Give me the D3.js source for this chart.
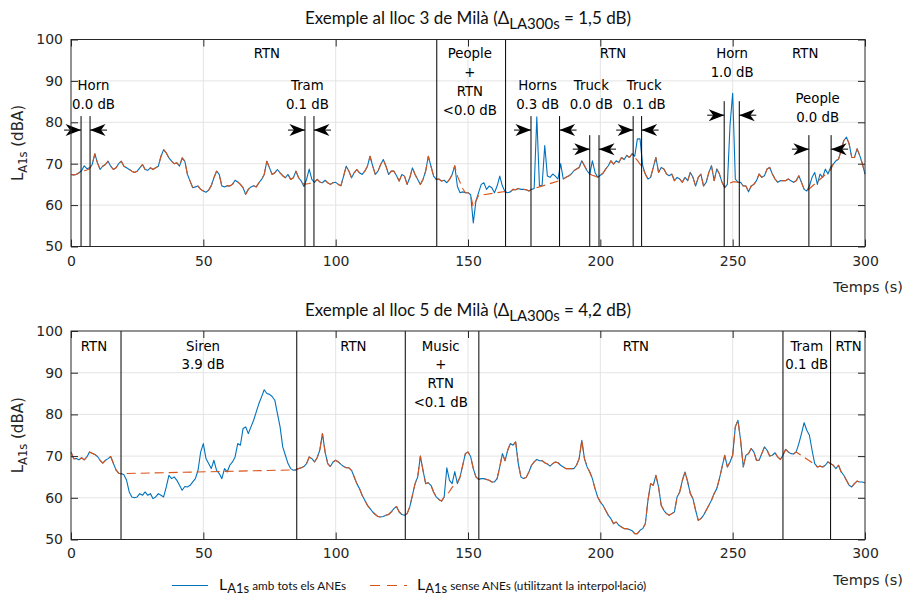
<!DOCTYPE html>
<html><head><meta charset="utf-8">
<script src="https://cdn.jsdelivr.net/npm/d3@7"></script>
<style>body{margin:0;background:#fff}</style>
</head><body><svg id="c" width="908" height="595"></svg>
<script>
// ---------- DATA ----------
const xTicks = [0,50,100,150,200,250,300];
const yTicks = [50,60,70,80,90,100];
const time = d3.range(0,301); // s, 1-s resolution

const blueTop = [
67.4,67.3,67.4,67.8,68.3,69.5,68.8,69.0,69.8,72.4,
70.2,68.6,69.4,69.8,70.6,69.4,68.6,69.0,70.0,70.6,
69.4,69.0,68.6,68.2,67.9,68.2,69.0,69.8,68.6,68.4,
69.0,68.6,69.0,69.4,71.8,73.4,72.6,71.4,70.6,70.0,
70.2,69.4,71.4,70.6,67.4,65.8,64.2,64.4,64.6,63.8,
63.4,63.1,63.6,64.7,66.6,68.2,67.4,64.6,64.4,64.7,
64.6,65.0,66.0,65.6,65.0,64.2,62.6,63.8,64.4,64.7,
64.4,65.4,66.2,67.4,70.6,69.0,67.4,67.8,68.6,67.8,
67.1,66.6,67.4,66.2,66.6,68.2,66.6,65.8,64.5,66.2,
68.7,66.2,65.5,66.2,65.6,65.4,66.0,65.4,65.0,65.4,
65.5,65.0,64.7,67.0,69.4,68.2,66.6,67.8,68.6,67.8,
67.4,68.2,69.4,71.8,69.4,67.4,68.2,69.8,71.0,69.4,
67.4,68.2,68.2,67.1,65.8,67.4,67.0,65.0,66.6,69.0,
67.4,66.2,65.0,66.2,68.2,71.8,69.4,67.0,66.2,66.3,
65.8,66.0,65.4,66.2,67.4,69.5,64.5,63.0,63.2,63.0,
63.0,62.5,55.7,61.0,63.0,65.0,65.4,63.8,64.6,64.2,
63.0,64.6,67.0,64.6,63.2,63.0,63.2,63.8,63.7,64.0,
63.8,63.8,63.7,63.4,63.8,64.0,81.3,64.6,64.8,74.4,
67.0,66.7,67.5,67.0,66.3,70.0,66.3,66.7,67.0,67.5,
68.3,68.7,69.1,70.7,69.5,68.3,67.5,70.7,67.9,66.7,
67.2,67.7,68.7,69.5,70.7,69.9,70.7,70.3,71.5,71.0,
72.0,71.5,72.4,71.8,76.0,76.0,69.5,67.5,66.3,66.7,
69.1,71.5,67.9,69.1,68.7,67.5,67.1,67.5,65.9,66.7,
66.3,65.5,66.7,65.9,67.9,66.7,64.6,66.7,67.5,64.6,
65.5,67.9,69.5,65.9,68.7,67.5,65.5,64.2,65.0,79.3,
87.0,66.3,65.5,65.5,64.6,64.6,63.2,64.6,65.0,65.9,
67.5,66.7,67.1,68.7,69.1,67.5,66.3,65.5,65.9,65.9,
65.9,66.3,65.9,65.5,65.9,67.1,65.5,63.8,63.4,64.6,
66.7,67.9,65.0,67.5,66.7,68.7,67.5,69.1,69.9,70.7,
71.1,73.2,75.6,76.4,74.8,71.5,71.5,73.6,72.0,70.0,
67.5];

const blueBot = [
71.0,69.4,69.4,69.1,69.6,69.1,69.8,71.0,70.7,70.4,
69.9,69.0,68.3,69.0,69.4,69.9,68.3,66.7,65.9,65.8,
65.5,64.2,61.4,60.2,60.0,60.2,61.0,60.6,61.4,60.6,
61.0,59.8,60.2,61.0,60.6,60.2,62.6,65.4,64.6,65.0,
64.2,63.0,61.8,62.7,62.6,63.0,63.8,64.6,66.6,71.0,
73.0,69.4,68.2,67.0,69.0,66.6,65.8,64.6,67.0,66.2,
67.8,68.6,69.8,73.0,72.6,76.6,77.0,75.4,77.0,78.6,
80.6,82.6,84.2,85.9,85.0,84.8,84.3,83.4,80.2,77.0,
72.2,70.2,68.2,67.0,66.6,66.7,67.0,67.2,67.5,68.2,
69.8,69.4,68.6,69.6,71.4,75.4,71.0,68.2,67.5,68.6,
69.0,68.6,68.0,67.5,67.2,67.2,66.6,65.0,63.4,62.2,
60.6,59.4,58.2,57.4,56.6,56.0,55.5,55.4,55.5,55.8,
56.0,56.6,57.4,57.9,56.6,56.0,55.8,56.2,57.8,60.6,
63.4,65.0,70.0,66.6,63.4,63.6,63.0,61.4,60.2,59.6,
59.2,60.2,67.2,64.2,63.4,66.3,63.4,65.0,67.8,70.6,
71.0,69.9,67.0,65.0,64.4,64.6,64.6,64.4,64.2,63.8,
63.8,64.6,67.4,70.6,68.9,71.4,73.0,72.6,73.4,68.2,
65.0,64.6,64.9,66.2,67.8,68.6,69.2,68.9,68.9,68.4,
68.1,67.6,68.2,68.6,68.4,67.8,67.4,67.0,67.0,67.0,
67.0,67.8,69.4,73.8,69.4,67.4,66.2,64.6,62.2,60.2,
59.0,58.2,57.0,55.8,55.0,53.8,54.2,53.4,53.0,52.6,
52.6,52.4,52.1,51.4,51.4,52.2,52.6,53.8,59.4,63.4,
63.0,65.4,62.6,58.2,57.0,56.2,55.8,56.2,56.6,60.2,
61.4,64.2,66.2,63.8,61.0,59.8,57.0,54.6,55.0,55.8,
57.0,58.2,59.4,61.0,62.2,64.6,67.4,70.2,67.4,68.6,
70.2,77.0,78.6,73.8,67.4,70.2,70.6,71.8,71.0,69.0,
69.0,70.6,72.2,71.4,70.0,70.2,70.8,69.8,69.2,70.2,
71.6,71.0,70.6,70.5,71.0,73.0,75.4,78.0,76.2,75.0,
71.4,68.2,67.4,67.6,67.4,67.8,68.6,68.2,67.8,67.0,
67.8,66.2,65.4,64.2,63.0,62.6,63.4,64.0,63.8,63.8,
63.6];

// "without ANEs" series: same as blue except inside ANE windows, where it uses these values
const anesTop = [[4,7],[88,91],[146,148],[152,152],[154,164],[175,185],[197,198],[213,216],[248,252],[279,287]];
const orangeTopPts = [[4,68.0],[5,68.3],[6,68.5],[7,68.8],[88,65.0],[89,65.1],[90,65.2],[91,65.4],
  [146,67.0],[147,65.5],[148,64.0],[152,59.5],[154,62.3],[164,63.3],[185,66.0],[197,67.2],[198,67.0],
  [213,71.5],[214,70.8],[215,69.9],[216,69.0],[248,65.0],[249,65.3],[250,65.6],[251,65.6],[252,65.5],[287,68.5]];
const anesBot = [[20,84],[142,147],[275,281]];
const orangeBotPts = [[142,60.8],[143,61.5],[144,62.5],[145,63.3],[146,63.8],[147,65.0],[281,68.0]];

// event boundaries (s)
const fullLinesTop = [138.2, 164.2];
const eventStartTop = [3.8, 88.4, 173.8, 196.0, 212.4, 246.8, 278.8];
const eventEndTop   = [7.2, 91.8, 184.6, 199.5, 215.6, 252.5, 287.2];
const eventTopLevel = [81.5, 81.5, 81.5, 76.9, 81.5, 85.1, 76.9]; // dB where the marker lines end
const fullLinesBot = [18.9, 85.3, 126.3, 154.1, 269, 287];

// annotation texts (time, dB of first baseline)
const labelsTop = [
 {lines:["RTN"], t:74.0, v:95.5},
 {lines:["Horn","0.0 dB"], t:8.5, v:87.7},
 {lines:["Tram","0.1 dB"], t:89.3, v:87.7},
 {lines:["People","+","RTN","<0.0 dB"], t:150.7, v:95.5},
 {lines:["RTN"], t:204.8, v:95.5},
 {lines:["Horns","0.3 dB"], t:176.3, v:87.7},
 {lines:["Truck","0.0 dB"], t:196.6, v:87.7},
 {lines:["Truck","0.1 dB"], t:216.6, v:87.7},
 {lines:["Horn","1.0 dB"], t:249.8, v:95.5},
 {lines:["RTN"], t:277.4, v:95.5},
 {lines:["People","0.0 dB"], t:282.1, v:84.6}
];
const labelsBot = [
 {lines:["RTN"], t:8.7, v:95.3},
 {lines:["Siren","3.9 dB"], t:49.9, v:95.3},
 {lines:["RTN"], t:106.7, v:95.3},
 {lines:["Music","+","RTN","<0.1 dB"], t:139.7, v:95.3},
 {lines:["RTN"], t:213.4, v:95.3},
 {lines:["Tram","0.1 dB"], t:278.0, v:95.3},
 {lines:["RTN"], t:293.8, v:95.3}
];
const titleTop = ["Exemple al lloc 3 de Milà (Δ","LA300s"," = 1,5 dB)"];
const titleBot = ["Exemple al lloc 5 de Milà (Δ","LA300s"," = 4,2 dB)"];
const yLabel = ["L","A1s"," (dBA)"];
const xLabel = "Temps (s)";
const legendA = ["L","A1s"," amb tots els ANEs"];
const legendB = ["L","A1s"," sense ANEs (utilitzant la interpol·lació)"];

// ---------- DRAW ----------
const svg = d3.select('#c');
const xL = 71, xR = 865;
const BLUE = '#0072BD', ORANGE = '#D95319', AX = '#262626';
const tickFont = "'DejaVu Sans', sans-serif";
const titleFont = "Lato, 'Noto Sans', sans-serif";

function orangeSeries(blue, gaps, pts){
  const base = blue.map((v,i)=>[time[i],v]).filter(([t])=>!gaps.some(([a,b])=>t>=a&&t<=b));
  return base.concat(pts).sort((a,b)=>a[0]-b[0]);
}

function drawPanel(p){
  const x = d3.scaleLinear().domain([0,300]).range([xL,xR]);
  const y = d3.scaleLinear().domain([50,100]).range([p.bottom,p.top]);
  const g = svg.append('g');
  // grid
  g.append('g').selectAll('line').data(xTicks.slice(1,-1)).join('line')
    .attr('x1',d=>x(d)).attr('x2',d=>x(d)).attr('y1',p.top).attr('y2',p.bottom)
    .attr('stroke','#e4e4e4').attr('stroke-width',1);
  g.append('g').selectAll('line').data(yTicks.slice(1,-1)).join('line')
    .attr('y1',d=>y(d)).attr('y2',d=>y(d)).attr('x1',xL).attr('x2',xR)
    .attr('stroke','#e4e4e4').attr('stroke-width',1);
  // series
  const line = d3.line().x(d=>x(d[0])).y(d=>y(d[1]));
  g.append('path').datum(p.blue.map((v,i)=>[time[i],v])).attr('d',line)
    .attr('fill','none').attr('stroke',BLUE).attr('stroke-width',1.1).attr('stroke-linejoin','round');
  g.append('path').datum(orangeSeries(p.blue,p.gaps,p.opts)).attr('d',line)
    .attr('fill','none').attr('stroke',ORANGE).attr('stroke-width',1.1)
    .attr('stroke-dasharray','9,5').attr('stroke-linejoin','round');
  // full-height event lines
  g.append('g').selectAll('line').data(p.full).join('line')
    .attr('x1',d=>x(d)).attr('x2',d=>x(d)).attr('y1',p.top).attr('y2',p.bottom)
    .attr('stroke','#000').attr('stroke-width',1);
  // short ANE markers with arrows
  if(p.evS){
    p.evS.forEach((s,i)=>{
      const e = p.evE[i], top = y(p.evTop[i]), ay = top + 14;
      [s,e].forEach(t=>{
        g.append('line').attr('x1',x(t)).attr('x2',x(t)).attr('y1',top).attr('y2',p.bottom)
          .attr('stroke','#000').attr('stroke-width',1);
      });
      [[x(s),1],[x(e),-1]].forEach(([tip,dir])=>{
        g.append('line').attr('x1',tip-dir*17).attr('x2',tip).attr('y1',ay).attr('y2',ay)
          .attr('stroke','#000').attr('stroke-width',1);
        g.append('path').attr('d',`M${tip},${ay}L${tip-dir*15.5},${ay-6}L${tip-dir*11},${ay}L${tip-dir*15.5},${ay+6}Z`)
          .attr('fill','#000');
      });
    });
  }
  // labels
  p.labels.forEach(l=>{
    const t = g.append('text').attr('x',x(l.t)).attr('y',y(l.v))
      .attr('text-anchor','middle').attr('font-family',tickFont).attr('font-size',13.3).attr('fill','#000');
    l.lines.forEach((s,i)=>{
      t.append('tspan').attr('x',x(l.t)).attr('y',y(l.v)+i*18.8).text(s);
    });
  });
  // axes with inward ticks
  const styleAx = sel => { sel.select('.domain').remove(); sel.selectAll('line').attr('stroke',AX);
    sel.attr('font-family',tickFont).attr('font-size',14); sel.selectAll('text').attr('fill',AX); };
  g.append('g').attr('transform',`translate(0,${p.bottom})`)
    .call(d3.axisBottom(x).tickValues(xTicks).tickSize(-7).tickPadding(p.xpad)).call(styleAx);
  g.append('g').attr('transform',`translate(0,${p.top})`)
    .call(d3.axisTop(x).tickValues(xTicks).tickSize(-7).tickFormat('')).call(styleAx);
  g.append('g').attr('transform',`translate(${xL},0)`)
    .call(d3.axisLeft(y).tickValues(yTicks).tickSize(-7).tickPadding(8)).call(styleAx);
  g.append('g').attr('transform',`translate(${xR},0)`)
    .call(d3.axisRight(y).tickValues(yTicks).tickSize(-7).tickFormat('')).call(styleAx);
  g.append('rect').attr('x',xL).attr('y',p.top).attr('width',xR-xL).attr('height',p.bottom-p.top)
    .attr('fill','none').attr('stroke',AX).attr('stroke-width',1);
  // x label
  g.append('text').attr('x',903).attr('y',p.bottom+45).attr('text-anchor','end')
    .attr('font-family',tickFont).attr('font-size',14.5).attr('fill',AX).text(xLabel);
  // y label
  const yl = g.append('text').attr('transform',`translate(23,${(p.top+p.bottom)/2}) rotate(-90)`)
    .attr('text-anchor','middle').attr('font-family',tickFont).attr('font-size',15).attr('fill',AX);
  yl.append('tspan').text(yLabel[0]);
  yl.append('tspan').attr('font-size',11.5).attr('dy',4).text(yLabel[1]);
  yl.append('tspan').attr('dy',-4).text(yLabel[2]);
  // title
  const tt = g.append('text').attr('x',(xL+xR)/2).attr('y',p.top-15.5).attr('text-anchor','middle')
    .attr('font-family',titleFont).attr('font-size',17).attr('fill','#111');
  tt.append('tspan').text(p.title[0]);
  tt.append('tspan').attr('font-size',15).attr('dy',5).text(p.title[1]);
  tt.append('tspan').attr('dy',-5).text(p.title[2]);
}

drawPanel({top:39.5,bottom:246.5,xpad:10,blue:blueTop,gaps:anesTop,opts:orangeTopPts,
  full:fullLinesTop,evS:eventStartTop,evE:eventEndTop,evTop:eventTopLevel,labels:labelsTop,title:titleTop});
drawPanel({top:331,bottom:539.5,xpad:9,blue:blueBot,gaps:anesBot,opts:orangeBotPts,
  full:fullLinesBot,labels:labelsBot,title:titleBot});

// legend
const lg = svg.append('g');
lg.append('line').attr('x1',172).attr('x2',208).attr('y1',585.5).attr('y2',585.5).attr('stroke',BLUE).attr('stroke-width',1.2);
lg.append('line').attr('x1',370).attr('x2',407).attr('y1',585.5).attr('y2',585.5).attr('stroke',ORANGE)
  .attr('stroke-width',1.2).attr('stroke-dasharray','10,7');
[[219,legendA],[417,legendB]].forEach(([lx,parts])=>{
  const t = lg.append('text').attr('x',lx).attr('y',590).attr('font-family',titleFont).attr('font-size',11.8).attr('fill','#111');
  t.append('tspan').attr('font-size',16).text(parts[0]);
  t.append('tspan').attr('font-size',13).attr('dy',3).text(parts[1]);
  t.append('tspan').attr('dy',-3).text(parts[2]);
});
</script>
</body></html>
